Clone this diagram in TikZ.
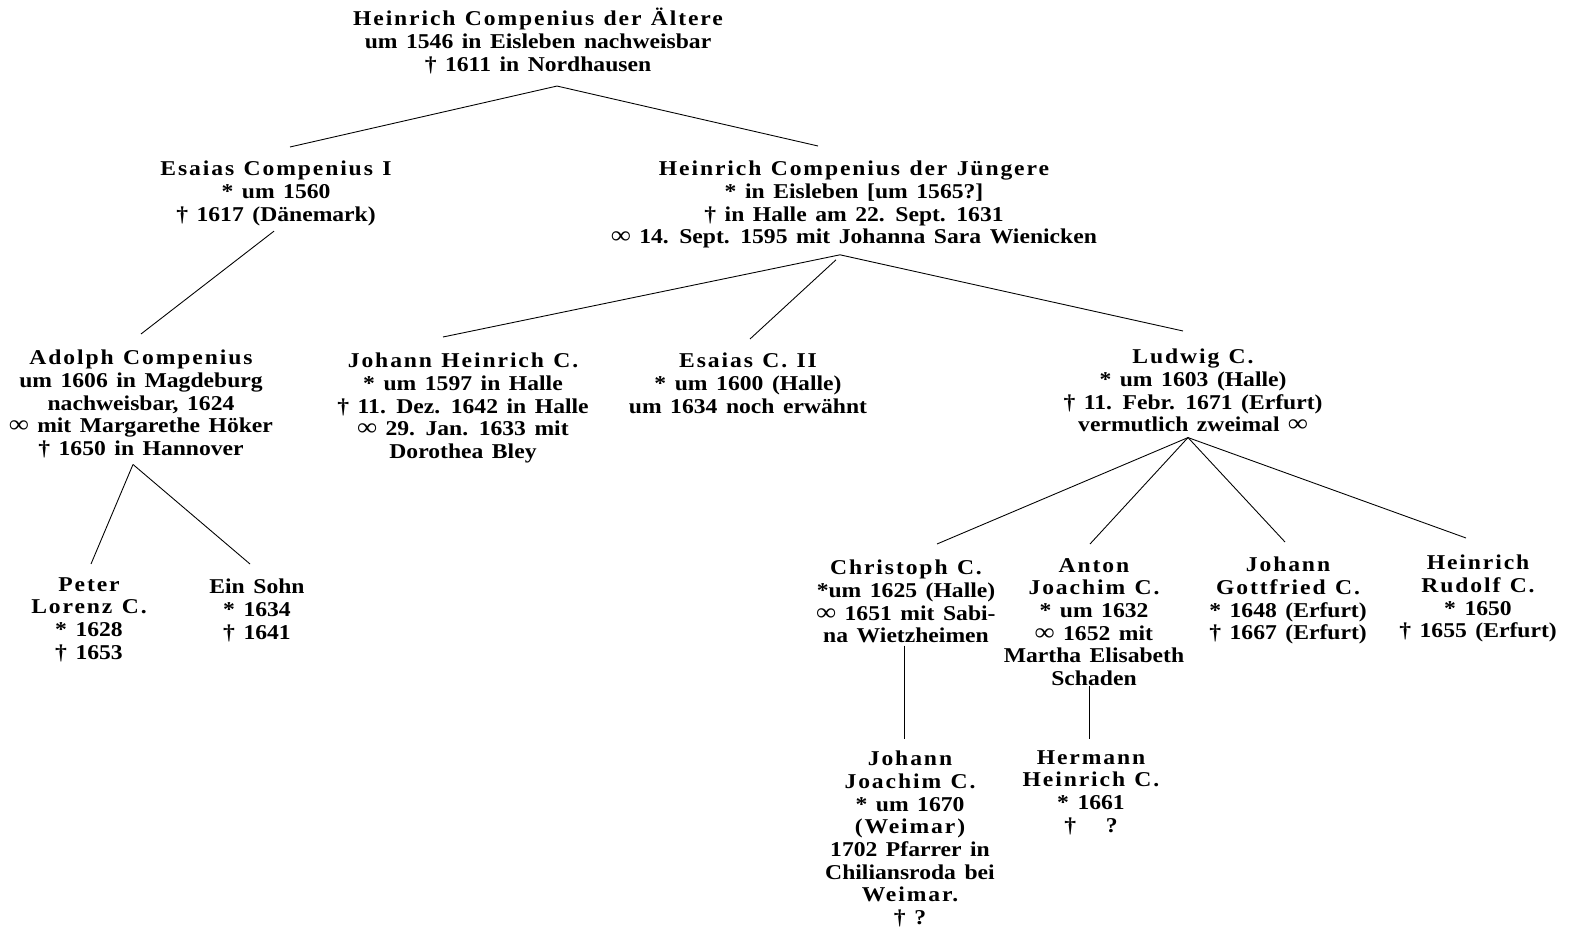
\documentclass[tikz,border=0pt]{standalone}
\usepackage{fontspec}
\setmainfont[FakeStretch=1.12,WordSpace=1.45]{Liberation Serif}
\newfontfamily\spacedfont[FakeStretch=1.12,WordSpace=1.2,LetterSpace=9]{Liberation Serif}
\newcommand{\nm}[1]{{\spacedfont\bfseries #1}}
\newcommand{\marr}{\smash{\fontsize{14}{12.9}\selectfont ∞}}

\tikzset{
  person/.style={align=center, inner sep=0pt, anchor=north,
    font=\fontsize{12}{12.9}\selectfont\bfseries},
  kin/.style={line width=0.5pt}
}

\begin{document}
\begin{tikzpicture}[x=0.02cm,y=-0.02cm]
                \useasboundingbox (0,0) rectangle (1579,928);

                \node[person] (root) at (538,8) {\nm{Heinrich Compenius der Ältere}\\um 1546 in Eisleben nachweisbar\\† 1611 in Nordhausen};

                \node[person] (esaiasI) at (276,161) {\nm{Esaias Compenius I}\\* um 1560\\† 1617 (Dänemark)};
                \node[person] (heinrichJ) at (854,161) {\nm{Heinrich Compenius der Jüngere}\\* in Eisleben [um 1565?]\\† in Halle am 22. Sept. 1631\\\marr{} 14. Sept. 1595 mit Johanna Sara Wienicken};

                \node[person] (adolph) at (141,350) {\nm{Adolph Compenius}\\um 1606 in Magdeburg\\nachweisbar, 1624\\\marr{} mit Margarethe Höker\\† 1650 in Hannover};
                \node[person] (johannH) at (463,353) {\nm{Johann Heinrich C.}\\* um 1597 in Halle\\† 11. Dez. 1642 in Halle\\\marr{} 29. Jan. 1633 mit\\Dorothea Bley};
                \node[person] (esaiasII) at (748,353) {\nm{Esaias C. II}\\* um 1600 (Halle)\\um 1634 noch erwähnt};
                \node[person] (ludwig) at (1193,349) {\nm{Ludwig C.}\\* um 1603 (Halle)\\† 11. Febr. 1671 (Erfurt)\\vermutlich zweimal \marr};

                \node[person] (peter) at (89,577) {\nm{Peter}\\\nm{Lorenz C.}\\* 1628\\† 1653};
                \node[person] (sohn) at (257,579) {Ein Sohn\\* 1634\\† 1641};

                \node[person] (christoph) at (906,560) {\nm{Christoph C.}\\*um 1625 (Halle)\\\marr{} 1651 mit Sabi-\\na Wietzheimen};
                \node[person] (anton) at (1094,558) {\nm{Anton}\\\nm{Joachim C.}\\* um 1632\\\marr{} 1652 mit\\Martha Elisabeth\\Schaden};
                \node[person] (johannG) at (1288,557) {\nm{Johann}\\\nm{Gottfried C.}\\* 1648 (Erfurt)\\† 1667 (Erfurt)};
                \node[person] (heinrichR) at (1478,555) {\nm{Heinrich}\\\nm{Rudolf C.}\\* 1650\\† 1655 (Erfurt)};

                \node[person] (johannJ) at (910,751) {\nm{Johann}\\\nm{Joachim C.}\\* um 1670\\\nm{(Weimar)}\\1702 Pfarrer in\\Chiliansroda bei\\\nm{Weimar.}\\† ?};
                \node[person] (hermann) at (1091,750) {\nm{Hermann}\\\nm{Heinrich C.}\\* 1661\\† \quad ?};

                % forks
                \coordinate (rootfork) at ([shift={(19,12)}]root.south);
                \coordinate (heinrichJfork) at ([shift={(-14,6)}]heinrichJ.south);
                \coordinate (adolphfork) at ([shift={(-8,6)}]adolph.south);
                \coordinate (ludwigfork) at ([shift={(-5,5)}]ludwig.south);

                \draw[kin] (rootfork) -- ([shift={(14,-14)}]esaiasI.north);
                \draw[kin] (rootfork) -- ([shift={(-36,-15)}]heinrichJ.north);

                \draw[kin] ([shift={(-2,5)}]esaiasI.south) -- ([shift={(0,-16)}]adolph.north);

                \draw[kin] (heinrichJfork) -- ([shift={(-20,-16)}]johannH.north);
                \draw[kin] ([shift={(-4,5)}]heinrichJfork) -- ([shift={(2,-14)}]esaiasII.north);
                \draw[kin] (heinrichJfork) -- ([shift={(-10,-18)}]ludwig.north);

                \draw[kin] (adolphfork) -- ([shift={(2,-13)}]peter.north);
                \draw[kin] (adolphfork) -- ([shift={(-7,-15)}]sohn.north);

                \draw[kin] (ludwigfork) -- ([shift={(31,-16)}]christoph.north);
                \draw[kin] (ludwigfork) -- ([shift={(-4,-14)}]anton.north);
                \draw[kin] (ludwigfork) -- ([shift={(-3,-15)}]johannG.north);
                \draw[kin] (ludwigfork) -- ([shift={(-12,-17)}]heinrichR.north);

                \draw[kin] ([shift={(-2,2)}]christoph.south) -- ([shift={(-6,-12)}]johannJ.north);
                \draw[kin] ([shift={(-5,0)}]anton.south) -- ([shift={(-2,-11)}]hermann.north);
\end{tikzpicture}
\end{document}
